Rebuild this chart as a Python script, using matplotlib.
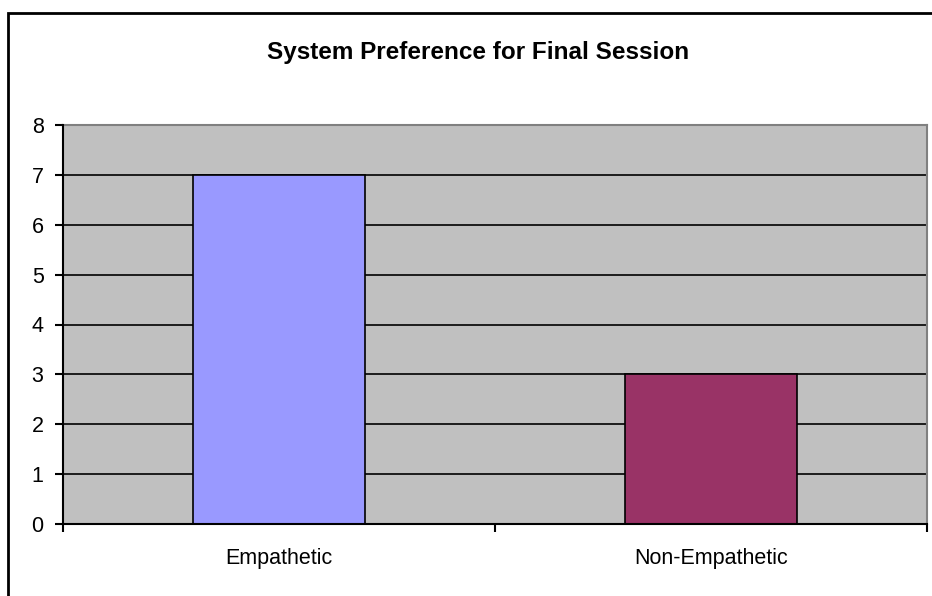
import numpy as np
import matplotlib.pyplot as plt
from matplotlib.patches import Rectangle

plt.rcParams['font.family'] = ['Liberation Sans', 'DejaVu Sans']

categories = ['Empathetic', 'Non-Empathetic']
counts = [7, 3]
bar_colors = ['#9999FF', '#993366']
yticks = list(range(0, 9))

fig = plt.figure(figsize=(9.32, 5.96), dpi=100)

# chart frame (left and top edges fall inside the image)
fig.patches.append(Rectangle((8 / 932, -0.1), 1.2, (596 - 13) / 596 + 0.1,
                             transform=fig.transFigure, fill=False,
                             edgecolor='black', linewidth=2))

ax = fig.add_axes([63 / 932, 1 - 524 / 596, 864 / 932, 399 / 596])
ax.set_facecolor('#C0C0C0')

x = np.arange(len(categories))
ax.bar(x, counts, width=0.4, color=bar_colors, edgecolor='black',
       linewidth=1.2, zorder=3)

ax.set_xlim(-0.5, 1.5)
ax.set_ylim(0, 8)
ax.set_yticks(yticks)
ax.set_yticklabels([str(v) for v in yticks], fontsize=15.5)
for v in yticks[1:-1]:
    ax.axhline(v, color='black', linewidth=1.2, zorder=2)

ax.set_xticks(x)
ax.set_xticklabels(categories, fontsize=15.5)
ax.tick_params(axis='x', which='major', length=0, pad=17)
ax.set_xticks([-0.5, 0.5, 1.5], minor=True)
ax.tick_params(axis='x', which='minor', length=6, width=1.5, direction='out')
ax.tick_params(axis='y', length=6, width=1.5, direction='out', pad=8)

for side in ['left', 'bottom']:
    ax.spines[side].set_color('black')
    ax.spines[side].set_linewidth(1.5)
    ax.spines[side].set_zorder(4)
for side in ['top', 'right']:
    ax.spines[side].set_color('#808080')
    ax.spines[side].set_linewidth(1.5)

fig.text(478 / 932, 1 - 52 / 596, 'System Preference for Final Session',
         ha='center', va='center', fontsize=17.5, fontweight='bold')

fig.savefig('out.png', dpi=100)
